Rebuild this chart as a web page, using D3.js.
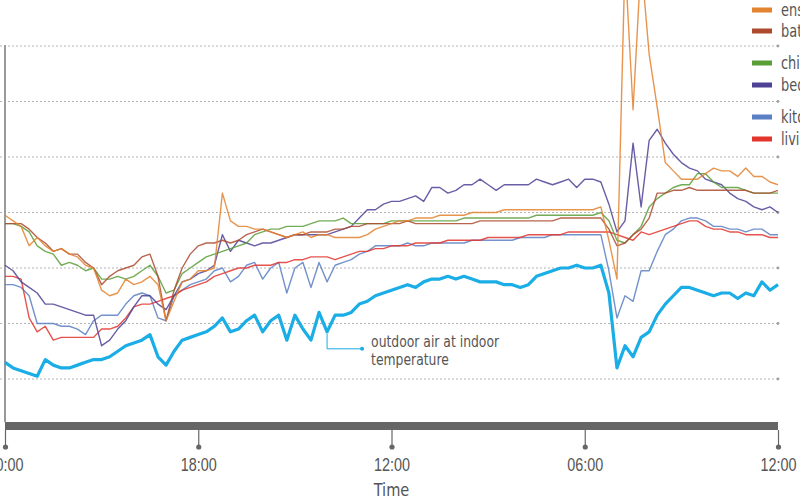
<!DOCTYPE html>
<html>
<head>
<meta charset="utf-8">
<script src="https://cdn.jsdelivr.net/npm/d3@7"></script>
<style>
body { margin: 0; background: #fff; }
svg { display: block; font-family: "Liberation Sans Narrow", "DejaVu Sans Condensed", sans-serif; }
</style>
</head>
<body>
<div id="chart"></div>
<script>
// hourly samples, 4 tick intervals of 24 samples each
var hours = d3.range(0, 97);
var tickHours = [0, 24, 48, 72, 96];
var tickLabels = ["00:00", "18:00", "12:00", "06:00", "12:00"];
var gridValues = [14, 16, 18, 20, 22, 24, 26];

var rooms = ["ensuite", "bathroom", "child", "bedroom", "kitchen", "living"];
var roomColors = ["#e3832f", "#ad4a2e", "#5a9e38", "#4d4296", "#5b7fc3", "#e2352d"];

// temperatures (deg C)
var ensuite = [19.9,19.7,19.5,18.8,19.1,18.8,18.6,18.7,18.5,18.4,
  18.1,18.0,17.2,17.0,17.1,17.6,17.4,17.5,17.7,17.4,
  16.1,16.8,17.5,17.6,17.9,17.9,18.0,20.7,19.7,19.5,
  19.5,19.4,19.4,19.3,19.2,19.1,19.2,19.3,19.1,19.2,
  19.2,19.1,19.1,19.1,19.1,19.2,19.4,19.5,19.6,19.7,
  19.7,19.8,19.8,19.8,19.9,19.9,19.9,19.9,20.0,20.0,
  20.0,20.0,20.1,20.1,20.1,20.1,20.1,20.1,20.1,20.1,
  20.1,20.1,20.1,20.1,20.2,19.0,17.6,29.1,23.7,29.1,
  25.7,23.8,21.8,21.5,21.2,21.2,21.2,21.4,21.6,21.5,
  21.5,21.3,21.6,21.3,21.3,21.1,21.0];
var bathroom = [19.6,19.6,19.6,19.4,19.1,18.9,18.6,18.7,18.5,18.5,
  18.2,18.0,17.4,17.7,17.9,18.0,18.1,18.4,18.5,17.7,
  16.1,17.2,18.0,18.5,18.8,18.9,18.9,19.0,18.9,19.0,
  19.2,19.3,19.4,19.3,19.2,19.1,19.2,19.2,19.3,19.3,
  19.3,19.4,19.4,19.5,19.5,19.6,19.6,19.6,19.6,19.6,
  19.7,19.6,19.6,19.6,19.6,19.6,19.6,19.6,19.6,19.7,
  19.7,19.7,19.7,19.7,19.7,19.7,19.7,19.7,19.7,19.8,
  19.8,19.8,19.8,19.8,19.8,19.4,18.8,18.9,19.2,19.4,
  19.8,20.7,20.7,20.8,20.8,20.9,20.8,20.8,20.8,20.8,
  20.8,20.8,20.8,20.7,20.7,20.7,20.8];
var child = [19.6,19.6,19.5,19.3,18.8,18.6,18.5,18.1,18.2,18.1,
  17.9,18.0,17.6,17.6,17.7,17.6,17.7,17.9,18.1,17.7,
  17.1,17.2,17.8,18.0,18.2,18.4,18.5,18.6,18.7,18.8,
  18.9,19.2,19.3,19.4,19.4,19.5,19.5,19.5,19.6,19.7,
  19.7,19.7,19.8,19.6,19.6,19.6,19.6,19.6,19.7,19.7,
  19.7,19.7,19.7,19.7,19.7,19.7,19.7,19.8,19.8,19.8,
  19.8,19.8,19.8,19.8,19.8,19.8,19.9,19.9,19.9,19.9,
  19.9,19.9,19.9,19.9,20.0,19.7,19.0,18.9,19.2,19.5,
  20.2,20.5,20.7,20.9,21.0,21.0,21.4,21.4,21.1,20.9,
  20.9,20.9,20.8,20.7,20.7,20.7,20.7];
var bedroom = [18.1,17.9,17.5,17.3,17.1,16.7,16.7,16.6,16.5,16.4,
  16.3,16.3,15.2,15.4,15.8,16.1,16.6,17.0,17.0,16.7,
  16.5,17.0,17.5,17.6,17.8,17.9,18.1,19.2,18.6,19.0,
  18.9,18.8,18.9,18.9,19.0,19.1,19.2,19.2,19.2,19.2,
  19.2,19.3,19.4,19.5,19.8,20.1,20.1,20.3,20.4,20.4,
  20.5,20.6,20.4,20.9,20.9,20.7,20.8,21.0,21.0,21.2,
  21.0,20.8,21.0,21.0,21.0,21.0,21.2,21.1,21.0,21.1,
  21.2,20.9,21.2,21.2,21.1,20.3,19.3,19.7,22.5,20.2,
  22.6,23.0,22.5,22.1,21.8,21.6,21.5,21.2,21.1,21.0,
  20.7,20.5,20.4,20.2,20.1,20.2,20.0];
var kitchen = [17.4,17.4,17.3,17.0,16.0,16.0,16.0,15.9,15.9,15.8,
  15.6,16.1,16.3,16.3,16.3,16.7,17.0,17.1,17.0,16.2,
  16.1,17.0,17.2,17.4,17.5,17.6,17.9,18.0,17.5,17.7,
  18.1,18.2,17.6,18.0,18.2,17.1,18.0,18.2,17.3,18.2,
  17.5,18.1,18.2,18.3,18.5,18.6,18.8,18.8,18.8,18.8,
  18.9,18.8,18.8,18.9,18.9,18.9,18.9,18.9,19.0,19.0,
  19.0,19.0,19.0,19.0,19.1,19.1,19.1,19.1,19.2,19.2,
  19.2,19.2,19.2,19.2,19.2,17.9,16.2,17.0,16.8,17.9,
  17.9,18.6,19.2,19.4,19.7,19.8,19.8,19.7,19.5,19.5,
  19.4,19.4,19.3,19.4,19.4,19.2,19.2];
var living = [17.7,17.7,17.6,16.2,15.7,15.9,15.4,15.5,15.5,15.5,
  15.5,15.5,15.8,15.8,15.9,16.2,16.6,16.7,16.7,16.8,
  16.9,17.0,17.2,17.3,17.4,17.5,17.7,17.8,17.9,18.0,
  18.0,18.1,18.1,18.1,18.2,18.2,18.3,18.3,18.4,18.4,
  18.4,18.3,18.4,18.5,18.6,18.6,18.7,18.7,18.8,18.8,
  18.8,18.9,18.9,18.9,18.9,19.0,19.0,19.0,19.0,19.0,
  19.1,19.1,19.1,19.1,19.1,19.2,19.2,19.2,19.2,19.2,
  19.3,19.3,19.3,19.3,19.3,19.3,19.2,19.1,19.0,19.3,
  19.2,19.3,19.4,19.5,19.6,19.7,19.7,19.5,19.4,19.4,
  19.3,19.3,19.2,19.2,19.2,19.1,19.1];
var outdoor = [14.6,14.4,14.3,14.2,14.1,14.7,14.5,14.4,14.4,14.5,
  14.6,14.7,14.7,14.8,15.0,15.2,15.3,15.4,15.6,14.8,
  14.5,15.0,15.4,15.5,15.6,15.7,15.9,16.2,15.7,15.8,
  16.1,16.3,15.7,16.1,16.3,15.4,16.3,15.8,15.4,16.4,
  15.7,16.3,16.3,16.4,16.7,16.8,17.0,17.1,17.2,17.3,
  17.4,17.3,17.5,17.6,17.6,17.7,17.6,17.7,17.6,17.5,
  17.5,17.5,17.4,17.4,17.3,17.4,17.7,17.8,17.9,18.0,
  18.0,18.1,18.0,18.0,18.1,17.1,14.4,15.2,14.8,15.5,
  15.7,16.3,16.7,17.0,17.3,17.3,17.2,17.1,17.0,17.1,
  17.1,16.9,17.1,17.0,17.5,17.2,17.4];

var series = [ensuite, bathroom, child, bedroom, kitchen, living];
var annotIndex = 40;

var width = 800, height = 500;
var squeeze = "scale(0.8,1)";   // narrow the glyphs like the original condensed face

var svg = d3.select("#chart")
    .append("svg")
    .attr("width", width)
    .attr("height", height);

var x = d3.scaleLinear().domain([0, 96]).range([5, 778]);
var y = d3.scaleLinear().domain([14, 26]).range([379, 46]);
var plotBottom = 422;

// gridlines
svg.append("g")
    .selectAll("line")
    .data(gridValues)
    .enter()
    .append("line")
    .attr("x1", 0)
    .attr("x2", x(96))
    .attr("y1", function(d) { return y(d); })
    .attr("y2", function(d) { return y(d); })
    .attr("stroke", "#b4b4b4")
    .attr("stroke-width", 1)
    .attr("stroke-dasharray", "2,2");
svg.append("g")
    .selectAll("circle")
    .data(gridValues)
    .enter()
    .append("circle")
    .attr("cx", x(96))
    .attr("cy", function(d) { return y(d); })
    .attr("r", 1.4)
    .attr("fill", "#a0a0a0");

// y axis line
svg.append("line")
    .attr("x1", x(0)).attr("x2", x(0))
    .attr("y1", y(26) - 1).attr("y2", plotBottom)
    .attr("stroke", "#9a9a9a")
    .attr("stroke-width", 2);

// room lines
var line = d3.line()
    .x(function(d, i) { return x(hours[i]); })
    .y(function(d) { return y(d); });

var drawOrder = [4, 5, 3, 2, 1, 0];
drawOrder.forEach(function(k) {
    svg.append("path")
        .datum(series[k])
        .attr("fill", "none")
        .attr("stroke", roomColors[k])
        .attr("stroke-opacity", 0.85)
        .attr("stroke-width", 1.4)
        .attr("stroke-linejoin", "round")
        .attr("d", line);
});

// outdoor line
svg.append("path")
    .datum(outdoor)
    .attr("fill", "none")
    .attr("stroke", "#1aade6")
    .attr("stroke-width", 3.2)
    .attr("stroke-linejoin", "round")
    .attr("d", line);

// annotation
var ax = x(hours[annotIndex]), ay = y(outdoor[annotIndex]);
svg.append("path")
    .attr("d", "M" + ax + "," + (ay + 2) + "V" + (ay + 17) + "H" + (ax + 35))
    .attr("fill", "none")
    .attr("stroke", "#1aade6")
    .attr("stroke-width", 1);
svg.append("circle")
    .attr("cx", ax + 35).attr("cy", ay + 17).attr("r", 2)
    .attr("fill", "#1aade6");
svg.append("text")
    .attr("transform", "translate(" + (ax + 44) + "," + (ay + 15) + ") scale(0.86,1)")
    .style("font-size", "16px")
    .attr("fill", "#555")
    .text("outdoor air at indoor");
svg.append("text")
    .attr("transform", "translate(" + (ax + 44) + "," + (ay + 33) + ") scale(0.86,1)")
    .style("font-size", "16px")
    .attr("fill", "#555")
    .text("temperature");

// bottom bar + time axis
svg.append("rect")
    .attr("x", x(0)).attr("y", plotBottom)
    .attr("width", x(96) - x(0)).attr("height", 8)
    .attr("fill", "#666");

var xAxis = svg.append("g")
    .attr("transform", "translate(0," + (plotBottom + 8) + ")")
    .call(d3.axisBottom(x)
        .tickValues(tickHours)
        .tickSize(17)
        .tickFormat(function(d, i) { return tickLabels[i]; }));
xAxis.select(".domain").remove();
xAxis.selectAll(".tick line").attr("stroke", "#666").attr("stroke-width", 1.2);
xAxis.selectAll(".tick").append("circle")
    .attr("cy", 17).attr("r", 2.6).attr("fill", "#666");
xAxis.selectAll(".tick text")
    .attr("y", 28)
    .attr("transform", squeeze)
    .attr("fill", "#555")
    .style("font-size", "18px")
    .style("font-family", "inherit");

svg.append("text")
    .attr("transform", "translate(" + x(48) + ",496) scale(0.9,1)")
    .attr("text-anchor", "middle")
    .attr("fill", "#555")
    .style("font-size", "18px")
    .text("Time");

// legend (runs off the right edge)
var legendY = [10, 31, 63, 85, 117, 139];
var legend = svg.append("g")
    .selectAll("g")
    .data(rooms)
    .enter()
    .append("g")
    .attr("transform", function(d, i) { return "translate(752," + legendY[i] + ")"; });
legend.append("rect")
    .attr("x", 0).attr("y", -2.5)
    .attr("width", 20).attr("height", 5)
    .attr("fill", function(d, i) { return roomColors[i]; });
legend.append("text")
    .attr("transform", "translate(29,6) " + squeeze)
    .attr("fill", "#555")
    .style("font-size", "18px")
    .text(function(d) { return d; });
</script>
</body>
</html>
